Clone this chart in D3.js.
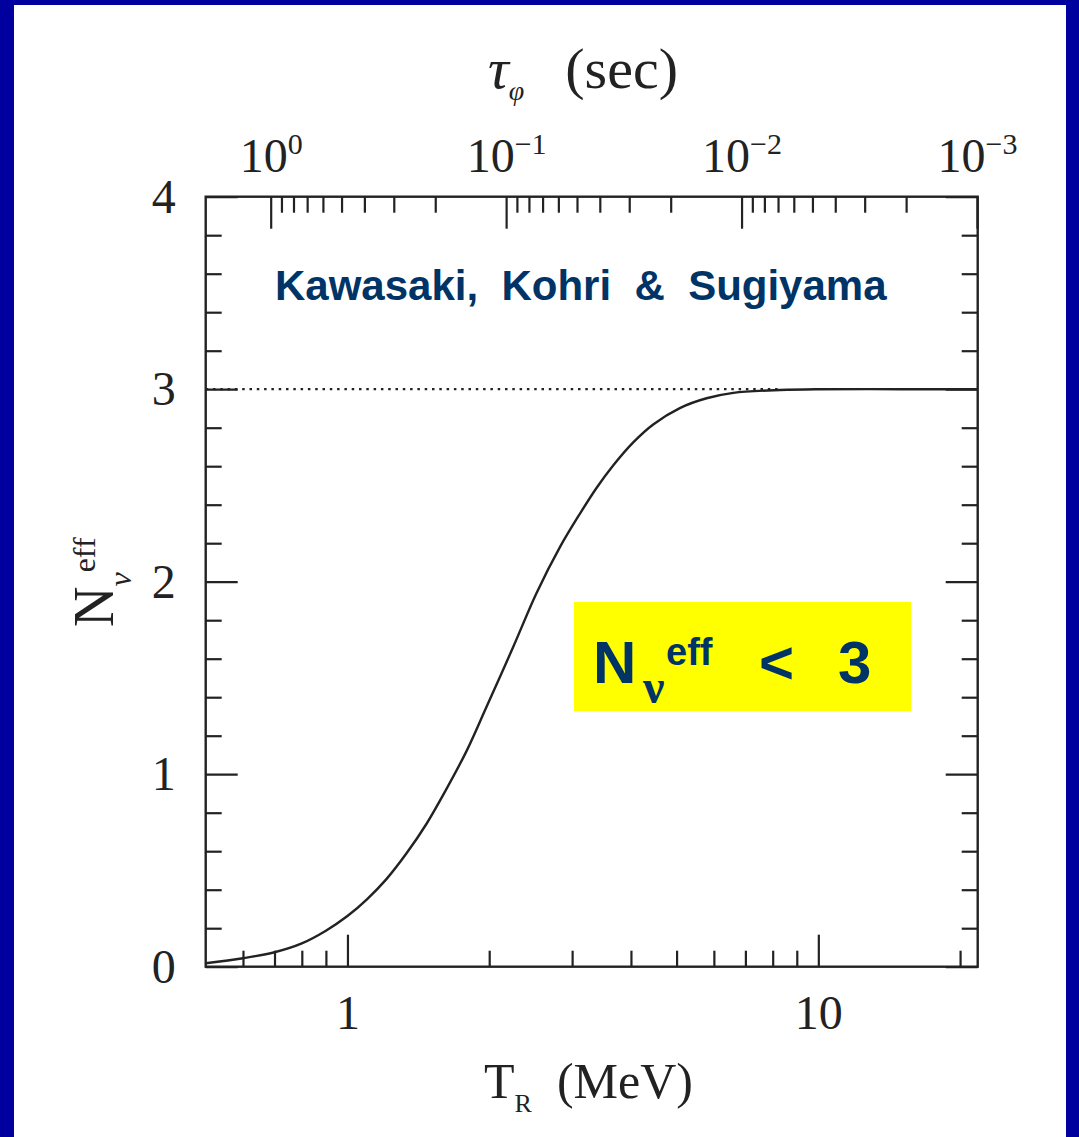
<!DOCTYPE html>
<html><head><meta charset="utf-8">
<script src="https://cdn.jsdelivr.net/npm/d3@7"></script>
<style>html,body{margin:0;padding:0;background:#fff}svg{display:block}</style>
</head><body>
<svg id="chart" width="1079" height="1137"></svg>
<script>
// ---- data ----
const tR   = [0.5, 0.6, 0.7, 0.8, 0.9, 1.0, 1.1, 1.21, 1.335, 1.47, 1.62, 1.79, 1.97, 2.25, 2.52, 2.83, 3.12, 3.38, 3.67, 4.05, 4.46, 5.08, 5.79, 6.6, 8.3, 10, 15, 21.8];
const nEff = [0.018, 0.044, 0.075, 0.121, 0.187, 0.263, 0.35, 0.455, 0.589, 0.74, 0.92, 1.12, 1.345, 1.662, 1.940, 2.182, 2.355, 2.487, 2.605, 2.725, 2.817, 2.902, 2.953, 2.981, 2.996, 3.0, 3.0, 3.0];
const refLevel = 3;
const refRangeT = [0.5, 8.3];
const xDomain = [0.5, 21.8];
const yDomain = [0, 4];
const xMajorTicks = [1, 10];
const xMajorLabels = ["1", "10"];
const xMinorTicks = [0.6, 0.7, 0.8, 0.9, 2, 3, 4, 5, 6, 7, 8, 9, 20];
const yMajorTicks = [0, 1, 2, 3, 4];
const yMinorTicks = [0.2, 0.4, 0.6, 0.8, 1.2, 1.4, 1.6, 1.8, 2.2, 2.4, 2.6, 2.8, 3.2, 3.4, 3.6, 3.8];
const tauConst = 0.472;            // tau = tauConst / T_R^2
const tauMajorTicks = [1, 0.1, 0.01, 0.001];
const tauMajorExp = ["0", "\u22121", "\u22122", "\u22123"];
const tauMinorTicks = [0.9,0.8,0.7,0.6,0.5,0.4,0.3,0.2, 0.09,0.08,0.07,0.06,0.05,0.04,0.03,0.02, 0.009,0.008,0.007,0.006,0.005,0.004,0.003,0.002];
const authorsText = "Kawasaki,  Kohri  &  Sugiyama";

// ---- drawing ----
const ink = "#222";
const navy = "#003366";
const serif = "'Liberation Serif', 'Times New Roman', serif";
const sans = "'Liberation Sans', Arial, sans-serif";
const svg = d3.select("#chart");
svg.append("rect").attr("width", 1079).attr("height", 1137).attr("fill", "#00009E");
svg.append("rect").attr("x", 14).attr("y", 5).attr("width", 1052).attr("height", 1132).attr("fill", "#fff");

const L = 205.7, R = 977.7, T = 196.7, B = 966.7;
const x = d3.scaleLog().domain(xDomain).range([L, R]);
const y = d3.scaleLinear().domain(yDomain).range([B, T]);
const xt = d3.scaleLog().domain([tauConst / (xDomain[0] ** 2), tauConst / (xDomain[1] ** 2)]).range([L, R]);

function axis(gen, tr, values, size, fmt, pad) {
  const g = svg.append("g").attr("transform", tr)
    .call(gen.tickValues(values).tickSize(-size).tickSizeOuter(0).tickPadding(pad || 0).tickFormat(fmt || (() => "")));
  g.select(".domain").remove();
  g.selectAll("line").attr("stroke", ink).attr("stroke-width", 2.2);
  g.attr("font-family", serif).attr("font-size", 48);
  g.selectAll("text").attr("fill", ink);
  return g;
}
// bottom
axis(d3.axisBottom(x), `translate(0,${B})`, xMinorTicks, 16);
axis(d3.axisBottom(x), `translate(0,${B})`, xMajorTicks, 32, (d, i) => xMajorLabels[i], 28);
// top
axis(d3.axisTop(xt), `translate(0,${T})`, tauMinorTicks, 16);
const gTop = axis(d3.axisTop(xt), `translate(0,${T})`, tauMajorTicks, 32);
gTop.selectAll(".tick").each(function (d, i) {
  const t = d3.select(this).append("text").attr("y", -25).attr("text-anchor", "middle")
    .attr("fill", ink).attr("font-size", 48);
  t.append("tspan").text("10");
  t.append("tspan").attr("dy", -18).attr("font-size", 30).text(tauMajorExp[i]);
});
// left
axis(d3.axisLeft(y), `translate(${L},0)`, yMinorTicks, 16);
axis(d3.axisLeft(y), `translate(${L},0)`, yMajorTicks, 32, d3.format("d"), 30);
// right
axis(d3.axisRight(y), `translate(${R},0)`, yMinorTicks, 16);
axis(d3.axisRight(y), `translate(${R},0)`, yMajorTicks, 32);

// frame
svg.append("rect").attr("x", L).attr("y", T).attr("width", R - L).attr("height", B - T)
  .attr("fill", "none").attr("stroke", ink).attr("stroke-width", 2.4);

// dotted reference line
svg.append("path")
  .attr("d", d3.line().x(d => x(d)).y(() => y(refLevel))(refRangeT))
  .attr("stroke", ink).attr("stroke-width", 2.2).attr("stroke-dasharray", "2.5,4.8").attr("fill", "none");

// curve
const pts = tR.map((t, i) => [t, nEff[i]]);
svg.append("path")
  .attr("d", d3.line().x(d => x(d[0])).y(d => y(d[1])).curve(d3.curveCatmullRom.alpha(0.5))(pts))
  .attr("stroke", ink).attr("stroke-width", 2.4).attr("fill", "none");

// axis titles
const xTitle = svg.append("text").attr("x", 484).attr("y", 1098).attr("font-family", serif).attr("font-size", 50).attr("fill", ink);
xTitle.append("tspan").text("T");
xTitle.append("tspan").attr("dy", 14).attr("font-size", 26).text("R");
xTitle.append("tspan").attr("dy", -14).style("white-space", "pre").text("  (MeV)");

const topTitle = svg.append("text").attr("x", 488).attr("y", 88).attr("font-family", serif).attr("font-size", 58).attr("fill", ink);
topTitle.append("tspan").attr("font-style", "italic").text("τ");
topTitle.append("tspan").attr("dy", 12).attr("font-size", 28).attr("font-style", "italic").text("φ");
topTitle.append("tspan").attr("dy", -12).attr("dx", 12).style("white-space", "pre").text("  (sec)");

const yTitle = svg.append("text").attr("transform", "translate(113,627) rotate(-90)")
  .attr("font-family", serif).attr("font-size", 56).attr("fill", ink);
yTitle.append("tspan").text("N");
yTitle.append("tspan").attr("dy", 18).attr("font-size", 32).attr("font-style", "italic").text("ν");
yTitle.append("tspan").attr("dy", -36).attr("font-size", 32).text("eff");

// annotations
svg.append("text").attr("x", 275).attr("y", 300).attr("font-family", sans).attr("font-weight", "bold")
  .attr("font-size", 42).attr("fill", navy).style("white-space", "pre").text(authorsText);

svg.append("rect").attr("x", 574).attr("y", 602).attr("width", 337).attr("height", 109).attr("fill", "#FFFF00");
const box = svg.append("g").attr("font-family", sans).attr("font-weight", "bold").attr("fill", navy);
box.append("text").attr("x", 593).attr("y", 683).attr("font-size", 60).text("N");
box.append("text").attr("x", 643).attr("y", 703).attr("font-size", 48).attr("font-family", serif).text("ν");
box.append("text").attr("x", 666).attr("y", 665).attr("font-size", 38).text("eff");
box.append("text").attr("x", 759).attr("y", 683).attr("font-size", 60).text("<");
box.append("text").attr("x", 838).attr("y", 683).attr("font-size", 60).text("3");
</script>
</body></html>
